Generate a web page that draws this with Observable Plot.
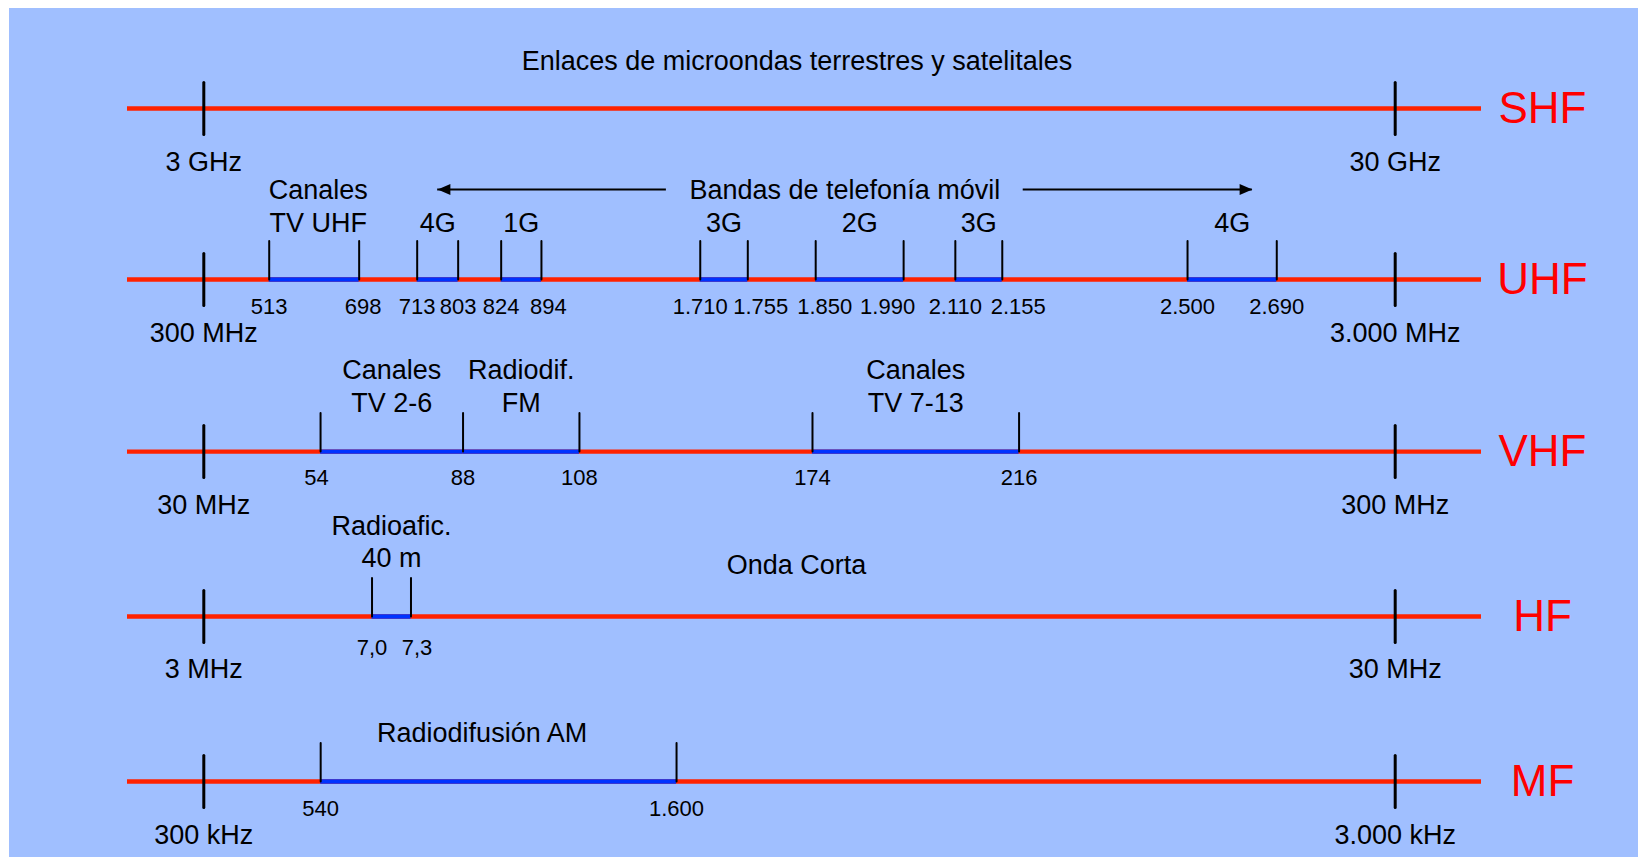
<!DOCTYPE html>
<html>
<head>
<meta charset="utf-8">
<script src="https://cdn.jsdelivr.net/npm/d3@7"></script>
<script src="https://cdn.jsdelivr.net/npm/@observablehq/plot@0.6"></script>
<style>
  html, body { margin: 0; padding: 0; background: #ffffff; }
  #chart { position: absolute; left: 9px; top: 8px; width: 1629px; height: 849px; background: #a0bfff; }
  #chart svg { display: block; }
</style>
</head>
<body>
<div id="chart"></div>
<script>
// ---------------- data ----------------
const rows = ["SHF", "UHF", "VHF", "HF", "MF"];
const lowEdgeValue  = [3, 300, 30, 3, 300];
const highEdgeValue = [30, 3000, 300, 30, 3000];
const lowEdgeLabel  = ["3 GHz", "300 MHz", "30 MHz", "3 MHz", "300 kHz"];
const highEdgeLabel = ["30 GHz", "3.000 MHz", "300 MHz", "30 MHz", "3.000 kHz"];

const bandRow   = ["UHF", "UHF", "UHF", "UHF", "UHF", "UHF", "UHF", "VHF", "VHF", "VHF", "HF", "MF"];
const bandStart = [513, 713, 824, 1710, 1850, 2110, 2500, 54, 88, 174, 7.0, 540];
const bandEnd   = [698, 803, 894, 1755, 1990, 2155, 2690, 88, 108, 216, 7.3, 1600];
const bandLabel = ["Canales\nTV UHF", "4G", "1G", "3G", "2G", "3G", "4G",
                   "Canales\nTV 2-6", "Radiodif.\nFM", "Canales\nTV 7-13",
                   "Radioafic.\n40 m", "Radiodifusión AM"];

const noteRow  = ["SHF", "HF"];
const noteText = ["Enlaces de microondas terrestres y satelitales", "Onda Corta"];

const mobileRow   = "UHF";
const mobileLabel = "Bandas de telefonía móvil";
const mobileTail  = [1536, 2194];   // MHz, arrow tails either side of the label
const mobileHead  = [758, 2638];    // MHz, arrow heads

// ---------------- schematic layout (diagram is not to scale) ----------------
// horizontal: position of each labelled frequency as a fraction of its row's decade
const layout = {
  SHF: [[3, 0], [30, 1]],
  UHF: [[300, 0], [513, .0549], [698, .1304], [713, .1791], [803, .2135], [824, .2496], [894, .2834],
        [1710, .4167], [1755, .4566], [1850, .5136], [1990, .5874], [2110, .6308], [2155, .6702],
        [2500, .8257], [2690, .9006], [3000, 1]],
  VHF: [[30, 0], [54, .0980], [88, .2176], [108, .3153], [174, .5109], [216, .6843], [300, 1]],
  HF:  [[3, 0], [7.0, .1412], [7.3, .1739], [30, 1]],
  MF:  [[300, 0], [540, .0981], [1600, .3968], [3000, 1]]
};
// vertical: position of each row, top (0) to bottom (1)
const rowLayout = {SHF: 0, UHF: 0.2541, VHF: 0.5097, HF: 0.7548, MF: 1};

// ---------------- styles ----------------
const lineRed = "#ff2200", bandBlue = "#0033ff", labelRed = "#ff0000";
const font = "'Liberation Sans', Arial, Helvetica, sans-serif";
const xRange = [194.3, 1385.7];
const yRange = [100, 773];
const xUnit = 1 / (xRange[1] - xRange[0]);
const bandLabelDy = {UHF: -48, VHF: -40, HF: -49, MF: -39.5};
const valueDy = {UHF: 34.3, VHF: 33.3, HF: 39, MF: 34};
const valueFormat = {UHF: ",d", VHF: ",d", HF: ".1f", MF: ",d"};
const labelNudge = {"Canales\nTV UHF": 4, "Radiodifusión AM": -16.5};
const valueNudge = {UHF: {698: 4, 894: 7, 1755: 13, 1850: 9, 1990: -16, 2155: 16}, VHF: {54: -4}, HF: {7.3: 6}, MF: {}};

// ---------------- derived tables ----------------
const es = d3.formatLocale({decimal: ",", thousands: ".", grouping: [3], currency: ["", " €"]});
const scaleOf = Object.fromEntries(Object.entries(layout).map(([r, pairs]) =>
  [r, d3.scaleLinear(pairs.map(p => p[0]), pairs.map(p => p[1]))]));
const pos = (row, f) => scaleOf[row](f);
const ry = row => rowLayout[row];

const edges = rows.map((r, i) => [
  {row: r, pos: 0, label: lowEdgeLabel[i], value: lowEdgeValue[i]},
  {row: r, pos: 1, label: highEdgeLabel[i], value: highEdgeValue[i]}
]).flat();

const bands = bandRow.map((r, i) => ({row: r, start: bandStart[i], end: bandEnd[i], label: bandLabel[i]}));

const bandTicks = [];
for (const b of bands) for (const f of [b.start, b.end])
  if (!bandTicks.some(t => t.row === b.row && t.f === f)) bandTicks.push({row: b.row, f});

const notes = noteRow.map((r, i) => ({row: r, text: noteText[i]}));
const mobile = mobileTail.map((t, i) => ({row: mobileRow, tail: t, head: mobileHead[i], rotate: i === 0 ? -90 : 90}));

const lineShape = {draw(ctx, l) { ctx.moveTo(0, 0); ctx.lineTo(0, -l); }};
const headShape = {draw(ctx, l) { ctx.moveTo(0, -l); ctx.lineTo(5.5, -l + 12.7); ctx.lineTo(-5.5, -l + 12.7); ctx.closePath(); }};

const bandRows = ["UHF", "VHF", "HF", "MF"];

const chart = Plot.plot({
  width: 1629,
  height: 849,
  marginLeft: 118,
  marginRight: 157,
  marginTop: 0,
  marginBottom: 0,
  x: {domain: [0, 1], range: xRange, axis: null},
  y: {domain: [0, 1], range: yRange, axis: null},
  style: {fontFamily: font, background: "transparent", overflow: "visible", color: "black"},
  marks: [
    // red decade lines
    Plot.ruleY(rows, {y: d => ry(d), stroke: lineRed, strokeWidth: 4.3}),
    // blue allocated bands
    Plot.ruleY(bands, {x1: d => pos(d.row, d.start), x2: d => pos(d.row, d.end), y: d => ry(d.row),
                       stroke: bandBlue, strokeWidth: 4.3}),
    // decade edge ticks
    Plot.vector(edges, {x: "pos", y: d => ry(d.row), length: 52, anchor: "middle", shape: lineShape,
                        stroke: "black", strokeWidth: 3}),
    // band edge ticks
    Plot.vector(bandTicks, {x: d => pos(d.row, d.f), y: d => ry(d.row), length: 38.5, anchor: "start",
                            shape: lineShape, stroke: "black", strokeWidth: 2}),
    // decade edge labels
    Plot.text(edges, {x: "pos", y: d => ry(d.row), text: "label", dy: 62, lineAnchor: "bottom",
                      fontSize: 27, fill: "black"}),
    // band edge values
    ...bandRows.map(r => Plot.text(bandTicks.filter(t => t.row === r), {
      x: d => pos(d.row, d.f) + ((valueNudge[r][d.f] || 0) * xUnit),
      y: d => ry(d.row),
      text: d => es.format(valueFormat[r])(d.f),
      dy: valueDy[r], lineAnchor: "bottom", fontSize: 22, fill: "black"
    })),
    // band names
    ...bandRows.map(r => Plot.text(bands.filter(b => b.row === r), {
      x: d => (pos(d.row, d.start) + pos(d.row, d.end)) / 2 + (labelNudge[d.label] || 0) * xUnit,
      y: d => ry(d.row),
      text: "label",
      dy: bandLabelDy[r], lineAnchor: "bottom", lineHeight: 1.2, fontSize: 27, fill: "black"
    })),
    // row-wide notes
    Plot.text(notes.filter(n => n.row === "SHF"), {x: () => 0.5, y: d => ry(d.row), text: "text", dx: -2.5, dy: -38.7,
                      lineAnchor: "bottom", fontSize: 27, fill: "black"}),
    Plot.text(notes.filter(n => n.row === "HF"), {x: () => 0.5, y: d => ry(d.row), text: "text", dx: -3, dy: -42.7,
                      lineAnchor: "bottom", fontSize: 27, fill: "black"}),
    // mobile telephony label with arrows
    Plot.text([mobileLabel], {x: () => (pos(mobileRow, mobileTail[0]) + pos(mobileRow, mobileTail[1])) / 2,
                              y: () => ry(mobileRow), text: d => d, dy: -80.7, lineAnchor: "bottom",
                              fontSize: 27, fill: "black"}),
    Plot.ruleY(mobile, {x1: d => pos(d.row, d.tail), x2: d => pos(d.row, d.head), y: d => ry(d.row),
                        dy: -90, stroke: "black", strokeWidth: 2}),
    Plot.vector(mobile, {x: d => pos(d.row, d.head), y: d => ry(d.row), rotate: "rotate", length: 12.7,
                         anchor: "end", shape: headShape, fill: "black", stroke: "none", dy: -90}),
    // band names on the right
    Plot.text(rows, {y: d => ry(d), text: d => d, frameAnchor: "right", textAnchor: "middle", dx: 61, dy: 14.5,
                     lineAnchor: "bottom", fontSize: 44, fill: labelRed})
  ]
});

document.getElementById("chart").appendChild(chart);
</script>
</body>
</html>
